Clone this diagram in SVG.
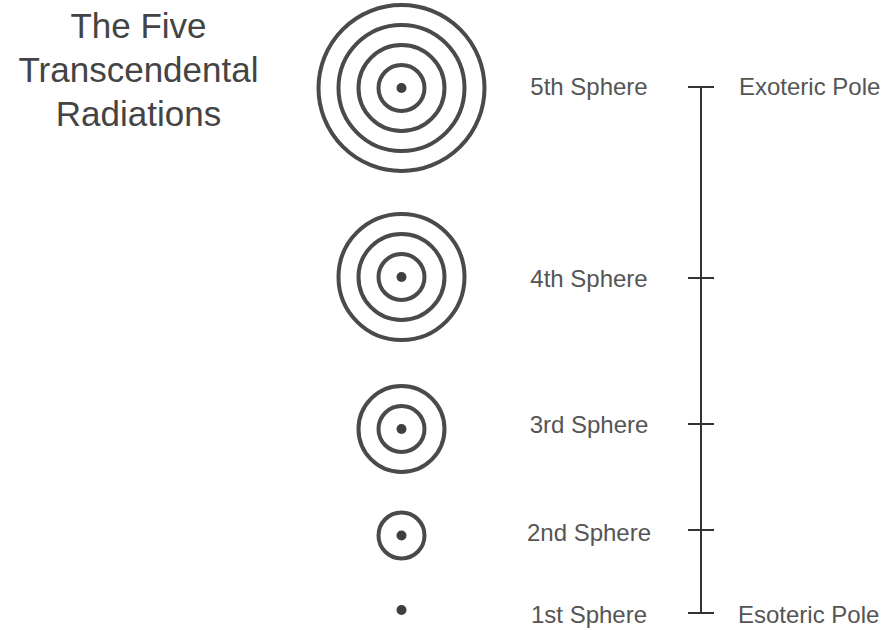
<svg xmlns="http://www.w3.org/2000/svg" width="885" height="630" viewBox="0 0 885 630">
<style>
.ring{fill:none;stroke:#4a4a4a;stroke-width:4}
.dot{fill:#3f3f3f}
.title{font-family:"Liberation Sans",Arial,sans-serif;font-size:35px;fill:#444;text-anchor:middle}
.lbl{font-family:"Liberation Sans",Arial,sans-serif;font-size:24px;fill:#555}
.mid{text-anchor:middle}
.axis{stroke:#333;stroke-width:2;fill:none}
</style>
<rect width="885" height="630" fill="#fff"/>
<g id="title">
<text class="title" x="138.5" y="38">The Five</text>
<text class="title" x="138.5" y="82">Transcendental</text>
<text class="title" x="138.5" y="126">Radiations</text>
</g>
<g id="sphere5">
<circle class="ring" cx="401.5" cy="88" r="83"/>
<circle class="ring" cx="401.5" cy="88" r="63"/>
<circle class="ring" cx="401.5" cy="88" r="43"/>
<circle class="ring" cx="401.5" cy="88" r="23"/>
<circle class="dot" cx="401.5" cy="88" r="5"/>
<text class="lbl mid" x="589" y="95">5th Sphere</text>
</g>
<g id="sphere4">
<circle class="ring" cx="401.5" cy="277" r="63"/>
<circle class="ring" cx="401.5" cy="277" r="43"/>
<circle class="ring" cx="401.5" cy="277" r="23"/>
<circle class="dot" cx="401.5" cy="277" r="5"/>
<text class="lbl mid" x="589" y="287">4th Sphere</text>
</g>
<g id="sphere3">
<circle class="ring" cx="401.5" cy="429" r="43"/>
<circle class="ring" cx="401.5" cy="429" r="23"/>
<circle class="dot" cx="401.5" cy="429" r="5"/>
<text class="lbl mid" x="589" y="433">3rd Sphere</text>
</g>
<g id="sphere2">
<circle class="ring" cx="401.5" cy="535.5" r="23"/>
<circle class="dot" cx="401.5" cy="535.5" r="5"/>
<text class="lbl mid" x="589" y="541">2nd Sphere</text>
</g>
<g id="sphere1">
<circle class="dot" cx="401.5" cy="610" r="5"/>
<text class="lbl mid" x="589" y="623">1st Sphere</text>
</g>
<g id="connectors">
<line class="axis" x1="701" y1="87" x2="701" y2="613"/>
<line class="axis" x1="688" y1="87" x2="714" y2="87"/>
<line class="axis" x1="688" y1="278" x2="714" y2="278"/>
<line class="axis" x1="688" y1="424" x2="714" y2="424"/>
<line class="axis" x1="688" y1="530" x2="714" y2="530"/>
<line class="axis" x1="688" y1="613" x2="714" y2="613"/>
</g>
<g id="poles">
<text class="lbl" x="739" y="95">Exoteric Pole</text>
<text class="lbl" x="738" y="623">Esoteric Pole</text>
</g>
</svg>
